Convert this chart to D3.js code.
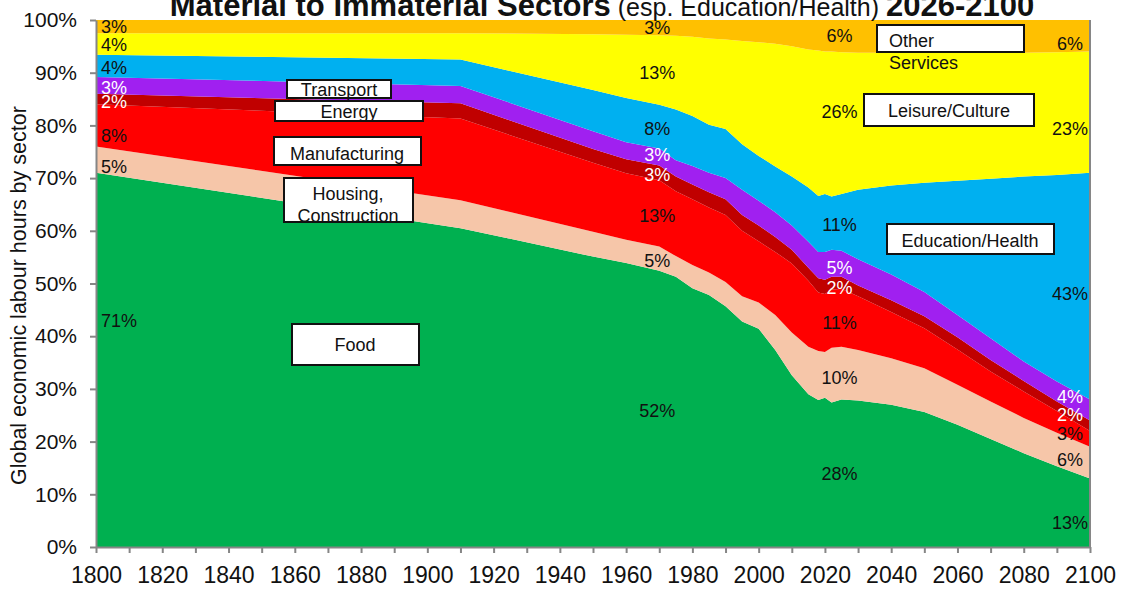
<!DOCTYPE html>
<html>
<head>
<meta charset="utf-8">
<title>Material to Immaterial Sectors</title>
<script src="https://cdn.jsdelivr.net/npm/d3@7"></script>
<style>
	body { margin: 0; background: #fff; }
	text { font-family: Arial, "Liberation Sans", sans-serif; }
</style>
</head>
<body>
<script>
// data: share of global labour hours (%) by sector
var years     = [1800, 1910, 1950, 1960, 1970, 1975, 1980, 1985, 1990, 1995, 2000, 2005, 2010, 2015, 2018, 2020, 2022, 2025, 2030, 2040, 2050, 2060, 2070, 2080, 2090, 2100];
var food      = [71.0, 60.5, 55.1, 53.9, 52.4, 51.3, 49.1, 47.8, 45.7, 42.8, 41.4, 37.4, 32.6, 29.0, 27.9, 28.3, 27.4, 28.0, 27.8, 27.0, 25.6, 23.2, 20.5, 17.8, 15.3, 13.0];
var housing   = [ 5.0,  5.3,  4.7,  4.4,  4.6,  3.9,  4.4,  4.3,  4.6,  4.8,  5.0,  6.6,  8.1,  9.0,  9.3,  8.7, 10.4, 10.0,  9.6,  8.8,  8.3,  7.6,  7.1,  6.7,  6.4,  6.0];
var manuf     = [ 8.0, 15.5, 13.1, 12.6, 12.6, 12.3, 12.5, 12.3, 12.7, 12.4, 11.6, 12.0, 13.1, 12.5, 11.1, 11.0, 11.0, 11.0, 10.2,  8.8,  7.6,  6.7,  5.7,  5.0,  4.1,  3.0];
var energy    = [ 2.0,  2.9,  2.6,  2.7,  2.8,  2.8,  2.8,  2.9,  3.0,  3.0,  3.0,  2.8,  2.6,  2.5,  2.7,  2.7,  2.5,  2.3,  2.0,  2.2,  2.3,  2.3,  2.2,  2.0,  1.8,  2.0];
var transport = [ 3.2,  3.3,  3.4,  3.2,  3.2,  3.1,  3.5,  3.7,  4.0,  4.8,  4.7,  4.7,  4.6,  4.9,  5.0,  5.3,  5.1,  4.9,  5.0,  4.9,  4.6,  4.2,  4.1,  3.7,  3.8,  4.0];
var education = [ 4.2,  5.0,  7.8,  8.4,  8.3,  9.6,  9.5,  9.1,  9.3,  8.6,  8.5,  8.7,  9.3, 10.3, 10.6, 11.0, 10.1, 10.8, 13.2, 16.9, 20.7, 25.5, 30.3, 35.1, 39.2, 43.0];
var leisure   = [ 4.1,  5.0, 10.6, 12.0, 13.2, 14.0, 15.0, 16.4, 17.0, 19.6, 21.6, 23.3, 24.7, 26.2, 27.6, 27.0, 27.5, 26.9, 26.0, 25.2, 24.7, 24.3, 23.9, 23.5, 23.3, 23.0];
var other     = [ 2.5,  2.5,  2.7,  2.8,  2.9,  3.0,  3.2,  3.5,  3.7,  4.0,  4.2,  4.5,  5.0,  5.6,  5.8,  6.0,  6.0,  6.1,  6.2,  6.2,  6.2,  6.2,  6.2,  6.2,  6.1,  6.0];

var sectors = ['Food', 'Housing', 'Manufacturing', 'Energy', 'Transport', 'Education', 'Leisure', 'Other'];
var colors  = ['#00B050', '#F6C6A9', '#FF0000', '#C00000', '#A020F0', '#00B0F0', '#FFFF00', '#FFC000'];
var labelColors = ['#111', '#111', '#111', '#fff', '#fff', '#111', '#111', '#111'];

// data label columns (rounded shares as printed)
var labelYears = [1800, 1970, 2025, 2100];
var labels1800 = ['71%', '5%', '8%', '2%', '3%', '4%', '4%', '3%'];
var labels1970 = ['52%', '5%', '13%', '3%', '3%', '8%', '13%', '3%'];
var labels2025 = ['28%', '10%', '11%', '2%', '5%', '11%', '26%', '6%'];
var labels2100 = ['13%', '6%', '3%', '2%', '4%', '43%', '23%', '6%'];

var xTickValues = d3.range(1800, 2101, 10);
var yTickValues = d3.range(0, 1.001, 0.1);

var width = 1121,
	height = 589;

var svg = d3.select('body')
			.append('svg')
			.attr('width', width)
			.attr('height', height);

var x = d3.scaleLinear().domain([1800, 2100]).range([96, 1090]);
var y = d3.scaleLinear().domain([0, 1]).range([547, 20]);

var table = years.map(function(yr, i){
	return {year: yr, Food: food[i], Housing: housing[i], Manufacturing: manuf[i], Energy: energy[i],
			Transport: transport[i], Education: education[i], Leisure: leisure[i], Other: other[i]};
});

var series = d3.stack()
				.keys(sectors)
				.offset(d3.stackOffsetExpand)(table);

var area = d3.area()
			.x(function(d){ return x(d.data.year); })
			.y0(function(d){ return y(d[0]); })
			.y1(function(d){ return y(d[1]); });

svg.append('g')
	.selectAll('path')
	.data(series)
	.enter()
	.append('path')
	.attr('fill', function(d, i){ return colors[i]; })
	.attr('d', area);

// axes
var xAxis = d3.axisBottom(x)
			.tickValues(xTickValues)
			.tickFormat(function(d){ return d % 20 === 0 ? d : ''; })
			.tickSizeInner(6)
			.tickSizeOuter(0)
			.tickPadding(14);
var gx = svg.append('g')
			.attr('transform', 'translate(0,547)')
			.call(xAxis);
gx.selectAll('text').attr('font-size', 23).attr('fill', '#111').attr('font-family', 'Arial, Liberation Sans');

var yAxis = d3.axisLeft(y)
			.tickValues(yTickValues)
			.tickFormat(d3.format('.0%'))
			.tickSizeInner(6)
			.tickSizeOuter(0)
			.tickPadding(13);
var gy = svg.append('g')
			.attr('transform', 'translate(96,0)')
			.call(yAxis);
gy.selectAll('text').attr('font-size', 21).attr('fill', '#111').attr('font-family', 'Arial, Liberation Sans');

svg.selectAll('.domain, .tick line').attr('stroke', '#868686').attr('stroke-width', 2);

svg.append('line')
	.attr('x1', x(2100)).attr('x2', x(2100))
	.attr('y1', y(1)).attr('y2', y(0))
	.attr('stroke', '#868686').attr('stroke-width', 2);

// y axis title
svg.append('text')
	.attr('transform', 'translate(26,485) rotate(-90)')
	.attr('font-size', 21.5)
	.attr('fill', '#111')
	.text('Global economic labour hours by sector');

// title (top part cut by the frame)
var title = svg.append('text')
				.attr('x', 602)
				.attr('y', 16)
				.attr('text-anchor', 'middle')
				.attr('fill', '#111');
title.append('tspan').attr('font-weight', 'bold').attr('font-size', 31).text('Material to Immaterial Sectors');
title.append('tspan').attr('font-size', 25).text(' (esp. Education/Health) ');
title.append('tspan').attr('font-weight', 'bold').attr('font-size', 31).text('2026-2100');

// percentage labels at band middles
var labelSets = [labels1800, labels1970, labels2025, labels2100];
var labelX = [
	{x: x(1800) + 5, anchor: 'start'},
	{x: x(1970) - 2, anchor: 'middle'},
	{x: x(2025) - 2, anchor: 'middle'},
	{x: 1070, anchor: 'middle'}
];
var labelNudge = [
	[-39, 7, 10, 3, 2, 2, 1, 0],
	[2, 2, 2, 2, -2, 2, 3, 0],
	[0, 5, 5, 5, 4, 2, -11, 0],
	[10, -3, -5, -11, -13, 8, 16, 8]
];

labelYears.forEach(function(yr, c){
	var idx = years.indexOf(yr);
	svg.append('g')
		.selectAll('text')
		.data(series)
		.enter()
		.append('text')
		.attr('x', labelX[c].x)
		.attr('y', function(s, i){ return y((s[idx][0] + s[idx][1]) / 2) + labelNudge[c][i]; })
		.attr('dy', '0.35em')
		.attr('text-anchor', labelX[c].anchor)
		.attr('font-size', 18)
		.attr('fill', function(s, i){ return labelColors[i]; })
		.text(function(s, i){ return labelSets[c][i]; });
});

// sector name boxes
var boxes = [
	{x: 287, y: 80, w: 104, h: 18, lines: ['Transport'], tx: 339, ty: 96, anchor: 'middle'},
	{x: 275, y: 101, w: 148, h: 20, lines: ['Energy'], tx: 349, ty: 118, anchor: 'middle'},
	{x: 274, y: 137, w: 147, h: 28, lines: ['Manufacturing'], tx: 347, ty: 160, anchor: 'middle'},
	{x: 284, y: 178, w: 129, h: 44, lines: ['Housing,', 'Construction'], tx: 348, ty: 200, anchor: 'middle'},
	{x: 292, y: 324, w: 127, h: 41, lines: ['Food'], tx: 355, ty: 351, anchor: 'middle'},
	{x: 877, y: 25, w: 147, h: 27, lines: ['Other', 'Services'], tx: 889, ty: 47, anchor: 'start'},
	{x: 864, y: 94, w: 170, h: 32, lines: ['Leisure/Culture'], tx: 949, ty: 117, anchor: 'middle'},
	{x: 887, y: 224, w: 167, h: 30, lines: ['Education/Health'], tx: 970, ty: 247, anchor: 'middle'}
];

var boxG = svg.append('g');
boxes.forEach(function(b){
	boxG.append('rect')
		.attr('x', b.x).attr('y', b.y)
		.attr('width', b.w).attr('height', b.h)
		.attr('fill', '#fff')
		.attr('stroke', '#111')
		.attr('stroke-width', 2);
	var t = boxG.append('text')
				.attr('text-anchor', b.anchor)
				.attr('font-size', 18)
				.attr('fill', '#111');
	b.lines.forEach(function(line, k){
		t.append('tspan')
			.attr('x', b.tx)
			.attr('y', b.ty + k * 22)
			.text(line);
	});
});
</script>
</body>
</html>
